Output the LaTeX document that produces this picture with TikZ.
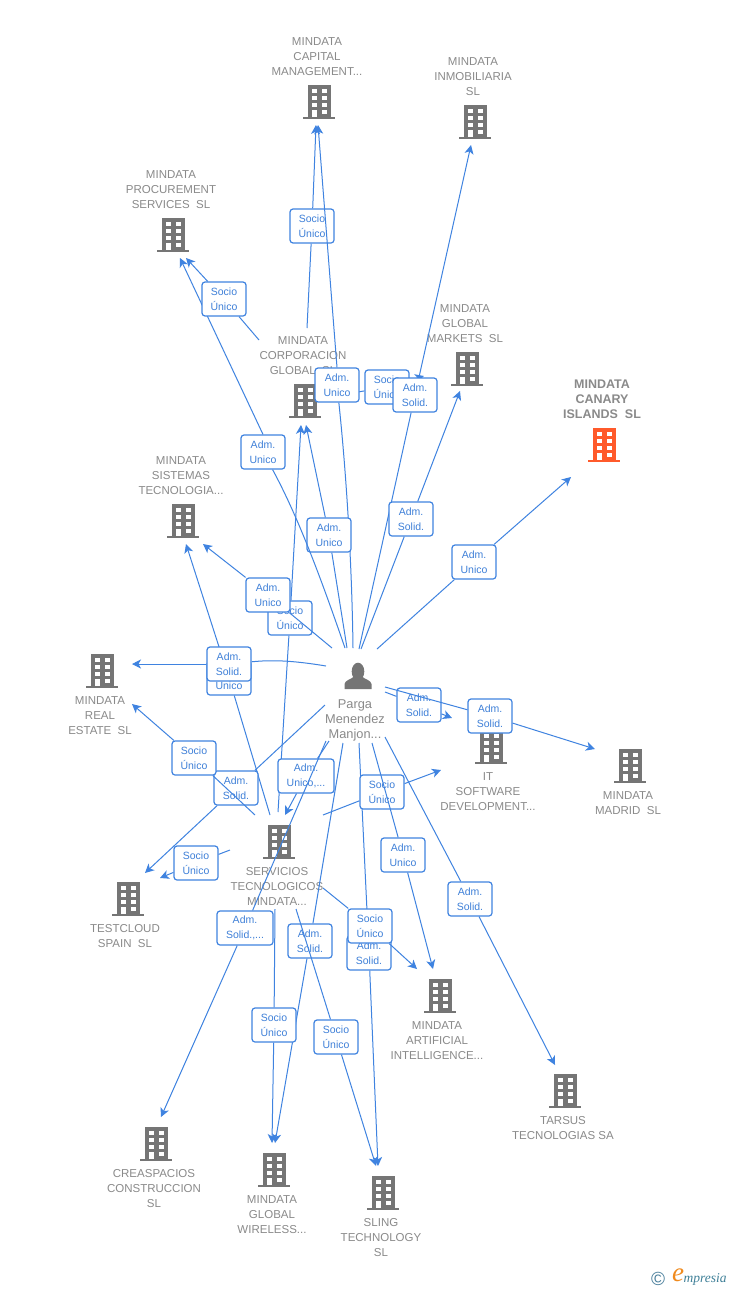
\documentclass[tikz,border=0pt]{standalone}
\usepackage{fontspec}
\setmainfont{Liberation Sans}
\newfontfamily\logofont{Liberation Serif}
\usetikzlibrary{arrows.meta}
\definecolor{cblue}{HTML}{3F83E0}
\definecolor{ctext}{HTML}{3F80D8}
\definecolor{cgray}{HTML}{8A8A8A}
\definecolor{cicon}{HTML}{757575}
\definecolor{corange}{HTML}{FF5A2B}
\definecolor{clogoc}{HTML}{4A7F9C}
\definecolor{clogoe}{HTML}{F08A1D}
\definecolor{clogot}{HTML}{3F8098}
\tikzset{
  conn/.style={draw=cblue,line width=1pt},
  arr/.style={draw=cblue,line width=1pt,-{Stealth[length=9pt,width=9pt,inset=2.5pt]}},
  labelbox/.style={draw=cblue,fill=white,rounded corners=3pt,line width=1.2pt,minimum width=44pt,minimum height=34pt,inner sep=0pt,
     align=center,text=ctext,font=\fontsize{10.5}{15}\selectfont},
  widebox/.style={labelbox,minimum width=56pt},
  entity/.style={text=cgray,align=center,inner sep=0pt,font=\fontsize{11.5}{15}\selectfont},
}
\newcommand\bldgicon[3]{%
  \begin{scope}[shift={(#1,#2)}]
    \fill[#3] (-11.5,-17) rectangle (11.5,15);
    \fill[#3] (-16,15) rectangle (16,17);
    \foreach \yy in {-13,-6,1} {
      \fill[white] (-7.5,\yy) rectangle (-2.5,\yy+4);
      \fill[white] (2.5,\yy) rectangle (7.5,\yy+4);
    }
    \fill[white] (-7.5,7.5) rectangle (-2.5,15);
    \fill[white] (2.5,7.5) rectangle (7.5,12);
  \end{scope}}
\newcommand\lab[3]{\node[labelbox] (#1) at (#2) {#3};}
\newcommand\wlab[3]{\node[widebox] (#1) at (#2) {#3};}
% id, start, end: free ends are named coordinates; segments stop at the label's border
\newcommand\link[3]{%
  \coordinate (#1-s) at (#2);
  \coordinate (#1-e) at (#3);
  \draw[conn] (#1-s) -- (#1);
  \draw[arr] (#1) -- (#1-e);}
\begin{document}
\begin{tikzpicture}[x=1pt,y=-1pt]
\path[use as bounding box,fill=white] (0,0) rectangle (728,1290);

% icons
\bldgicon{319}{102}{cicon}
\bldgicon{475}{122}{cicon}
\bldgicon{173}{235}{cicon}
\bldgicon{305}{401}{cicon}
\bldgicon{467}{369}{cicon}
\bldgicon{604}{445}{corange}
\bldgicon{183}{521}{cicon}
\bldgicon{102}{671}{cicon}
\bldgicon{491}{747}{cicon}
\bldgicon{630}{766}{cicon}
\bldgicon{128}{899}{cicon}
\bldgicon{279}{842}{cicon}
\bldgicon{440}{996}{cicon}
\bldgicon{565}{1091}{cicon}
\bldgicon{156}{1144}{cicon}
\bldgicon{274}{1170}{cicon}
\bldgicon{383}{1193}{cicon}
% person icon
\fill[cicon] (358,671.5) ellipse (6.3 and 8.8);
\fill[cicon] (344.5,689) -- (344.5,684) .. controls (345,680) and (352,679) .. (354,676.5) -- (362,676.5) .. controls (364,679) and (371,680) .. (371.5,684) -- (371.5,689) -- cycle;

% entity names
\node[entity] (capital) at (317,57) {MINDATA\\CAPITAL\\MANAGEMENT...};
\node[entity] (inmob) at (473,77) {MINDATA\\INMOBILIARIA\\SL};
\node[entity] (procure) at (171,190) {MINDATA\\PROCUREMENT\\SERVICES~~SL};
\node[entity] (corp) at (303,356) {MINDATA\\CORPORACION\\GLOBAL~~SL};
\node[entity] (markets) at (465,324) {MINDATA\\GLOBAL\\MARKETS~~SL};
\node[entity,font=\fontsize{12.5}{15}\selectfont\bfseries] (canary) at (602,399) {MINDATA\\CANARY\\ISLANDS~~SL};
\node[entity] (sistemas) at (181,476) {MINDATA\\SISTEMAS\\TECNOLOGIA...};
\node[entity] (realestate) at (100,716) {MINDATA\\REAL\\ESTATE~~SL};
\node[entity] (itsoft) at (488,792) {IT\\SOFTWARE\\DEVELOPMENT...};
\node[entity] (madrid) at (628,803.5) {MINDATA\\MADRID~~SL};
\node[entity] (testcloud) at (125,936.5) {TESTCLOUD\\SPAIN~~SL};
\node[entity] (servicios) at (277,886) {SERVICIOS\\TECNOLOGICOS\\MINDATA...};
\node[entity] (ai) at (437,1041) {MINDATA\\ARTIFICIAL\\INTELLIGENCE...};
\node[entity] (tarsus) at (563,1128.5) {TARSUS\\TECNOLOGIAS SA};
\node[entity] (creas) at (154,1189) {CREASPACIOS\\CONSTRUCCION\\SL};
\node[entity] (wireless) at (272,1215) {MINDATA\\GLOBAL\\WIRELESS...};
\node[entity] (sling) at (381,1238) {SLING\\TECHNOLOGY\\SL};
\node[entity,font=\fontsize{12.8}{15}\selectfont] (person) at (355,720) {Parga\\Menendez\\Manjon...};

% labels and their connectors, in stacking order
\lab{soc-capital}{312,226}{Socio\\Único}
\link{soc-capital}{307,328}{316,125}

\lab{soc-corp}{387,387}{Socio\\Único}
\link{soc-corp}{358,392}{424,376}

\lab{unico-capital}{337,385}{Adm.~\\Unico}
\coordinate (unico-capital-s) at (353,648);
\coordinate (unico-capital-e) at (318,125);
\draw[conn] (unico-capital-s) .. controls (352,570) and (347,480) .. (unico-capital);
\draw[arr] (unico-capital.north) -- (unico-capital-e);

\lab{sol-inmob}{415,395}{Adm.~\\Solid.}
\link{sol-inmob}{359,649}{471,145}

\lab{unico-canary}{474,562}{Adm.~\\Unico}
\link{unico-canary}{377,649}{571,477}

\lab{sol-markets}{411,519}{Adm.~\\Solid.}
\link{sol-markets}{361,649}{460,391}

\lab{unico-corp}{329,535}{Adm.~\\Unico}
\link{unico-corp}{347,648}{306,425}

\lab{unico-proc}{263,452}{Adm.~\\Unico}
\coordinate (unico-proc-s) at (345,648);
\coordinate (unico-proc-e) at (180,258);
\draw[conn] (unico-proc-s) .. controls (325,590) and (300,520) .. (unico-proc);
\draw[arr] (unico-proc.north) -- (unico-proc-e);

\lab{soc-proc}{224,299}{Socio\\Único}
\link{soc-proc}{259,340}{186,258}

\lab{soc-serv-corp}{290,618}{Socio\\Único}
\link{soc-serv-corp}{278,812}{301,425}

\lab{unico-sist}{268,595}{Adm.~\\Unico}
\link{unico-sist}{332,648}{203,544}

\lab{soc-sist}{229,678}{Socio\\Único}
\link{soc-sist}{270,815}{186,544}

\lab{sol-real}{229,664}{Adm.~\\Solid.}
\coordinate (sol-real-s) at (326,666);
\coordinate (sol-real-e) at (132,664);
\draw[conn] (sol-real-s) .. controls (290,660) and (270,660) .. (sol-real);
\draw[arr] (sol-real) -- (sol-real-e);

\lab{sol-test}{236,788}{Adm.~\\Solid.}
\link{sol-test}{325,705}{145,873}

\lab{soc-real}{194,758}{Socio\\Único}
\link{soc-real}{255,815}{132,704}

\lab{soc-test}{196,863}{Socio\\Único}
\link{soc-test}{230,850}{160,878}

\wlab{unico-serv}{306,776}{Adm.\\Unico,...}
\link{unico-serv}{329,741}{285,815}

\wlab{sol-creas}{245,928}{Adm.\\Solid.,...}
\link{sol-creas}{326,741}{161,1117}

\lab{sol-wire}{310,941}{Adm.~\\Solid.}
\link{sol-wire}{343,743}{275,1143}

\lab{soc-wire}{274,1025}{Socio\\Único}
\link{soc-wire}{275,909}{272,1143}

\lab{soc-sling}{336,1037}{Socio\\Único}
\link{soc-sling}{296,909}{376,1166}

\lab{sol-sling}{369,953}{Adm.~\\Solid.}
\link{sol-sling}{359,743}{378,1166}

\lab{soc-ai}{370,926}{Socio\\Único}
\link{soc-ai}{323,888}{417,969}

\lab{soc-it}{382,792}{Socio\\Único}
\link{soc-it}{323,815}{441,770}

\lab{unico-ai}{403,855}{Adm.~\\Unico}
\link{unico-ai}{372,743}{433,969}

\lab{sol-tarsus}{470,899}{Adm.~\\Solid.}
\link{sol-tarsus}{385,737}{555,1065}

\lab{sol-it}{419,705}{Adm.~\\Solid.}
\link{sol-it}{385,692}{452,718}

\lab{sol-madrid}{490,716}{Adm.~\\Solid.}
\link{sol-madrid}{385,687}{595,749}

% logo
\node[inner sep=0pt,text=clogoc,font=\fontsize{19}{19}\selectfont] (logo-c) at (658,1279) {©};
\node[inner sep=0pt,text=clogoe,font=\logofont\itshape\fontsize{27}{27}\selectfont] (logo-e) at (678,1275) {e};
\node[inner sep=0pt,text=clogot,font=\logofont\itshape\fontsize{13.5}{12}\selectfont] (logo-t) at (705,1279) {mpresia};
\end{tikzpicture}
\end{document}
